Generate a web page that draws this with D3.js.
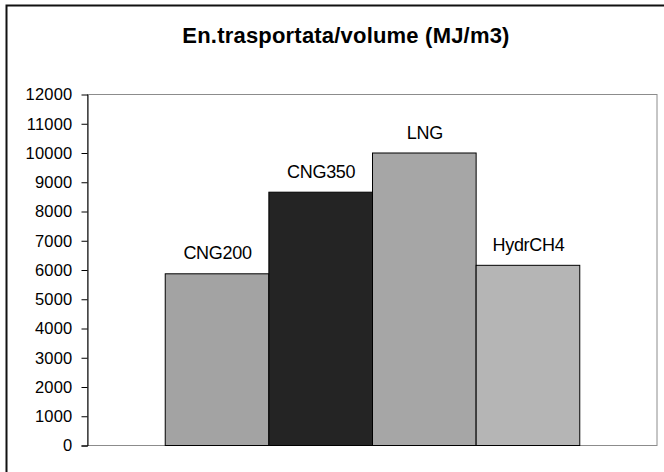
<!DOCTYPE html>
<html>
<head>
<meta charset="utf-8">
<script src="https://cdn.jsdelivr.net/npm/d3@7"></script>
<style>
  html, body { margin: 0; padding: 0; background: #fff; }
  svg { display: block; }
  text { font-family: "Liberation Sans", Arial, sans-serif; fill: #000; }
</style>
</head>
<body>
<svg id="chart" width="664" height="472"></svg>
<script>
// Energy carried per unit volume, by fuel storage type
const series = ["CNG200", "CNG350", "LNG", "HydrCH4"];
const values = [5870, 8660, 10000, 6160];
const fills = ["#a3a3a3", "#242424", "#a6a6a6", "#b5b5b5"];
const yTicks = [0, 1000, 2000, 3000, 4000, 5000, 6000, 7000, 8000, 9000, 10000, 11000, 12000];
const title = "En.trasportata/volume (MJ/m3)";

const svg = d3.select("#chart");
const plot = { left: 87, right: 657, top: 94, bottom: 445 };

// chart frame (runs past the visible window on the right and bottom)
svg.append("rect")
  .attr("x", 6.5).attr("y", 5.5)
  .attr("width", 700).attr("height", 500)
  .attr("fill", "none").attr("stroke", "#111").attr("stroke-width", 2);

svg.append("text")
  .attr("x", 346).attr("y", 43)
  .attr("text-anchor", "middle")
  .style("font-size", "22px").style("font-weight", "bold")
  .style("letter-spacing", "0.2px")
  .text(title);

const x = d3.scaleBand()
  .domain(series)
  .range([plot.left, plot.right])
  .paddingInner(0)
  .paddingOuter(0.75);

const y = d3.scaleLinear()
  .domain([0, 12000])
  .range([plot.bottom, plot.top]);

// plot area border
svg.append("rect")
  .attr("x", plot.left + 0.5).attr("y", plot.top + 0.5)
  .attr("width", plot.right - plot.left - 0.5)
  .attr("height", plot.bottom - plot.top)
  .attr("fill", "none").attr("stroke", "#8c8c8c").attr("stroke-width", 1);

// bars
svg.append("g").selectAll("rect")
  .data(series)
  .join("rect")
  .attr("x", d => x(d) + 0.5)
  .attr("y", (d, i) => y(values[i]) + 0.5)
  .attr("width", x.bandwidth())
  .attr("height", (d, i) => y(0) - y(values[i]))
  .attr("fill", (d, i) => fills[i])
  .attr("stroke", "#000").attr("stroke-width", 1);

// series labels above the bars
svg.append("g").selectAll("text")
  .data(series)
  .join("text")
  .attr("x", d => x(d) + x.bandwidth() / 2 + 1)
  .attr("y", (d, i) => y(values[i]) - 14)
  .attr("text-anchor", "middle")
  .style("font-size", "18px")
  .style("letter-spacing", "-0.3px")
  .text(d => d);

// value axis
const yAxis = d3.axisLeft(y)
  .tickValues(yTicks)
  .tickSize(6)
  .tickPadding(9)
  .tickFormat(d3.format("d"));

const ga = svg.append("g")
  .attr("transform", `translate(${plot.left + 0.5},0.5)`)
  .call(yAxis);
ga.select(".domain").attr("stroke", "#000");
ga.selectAll(".tick line").attr("stroke", "#000");
ga.selectAll(".tick text")
  .style("font-size", "16.5px")
  .style("letter-spacing", "0.2px")
  .style("font-family", "'Liberation Sans', Arial, sans-serif");
ga.selectAll(".tick").filter(d => d === 12000).select("line").attr("x2", 0);
</script>
</body>
</html>
